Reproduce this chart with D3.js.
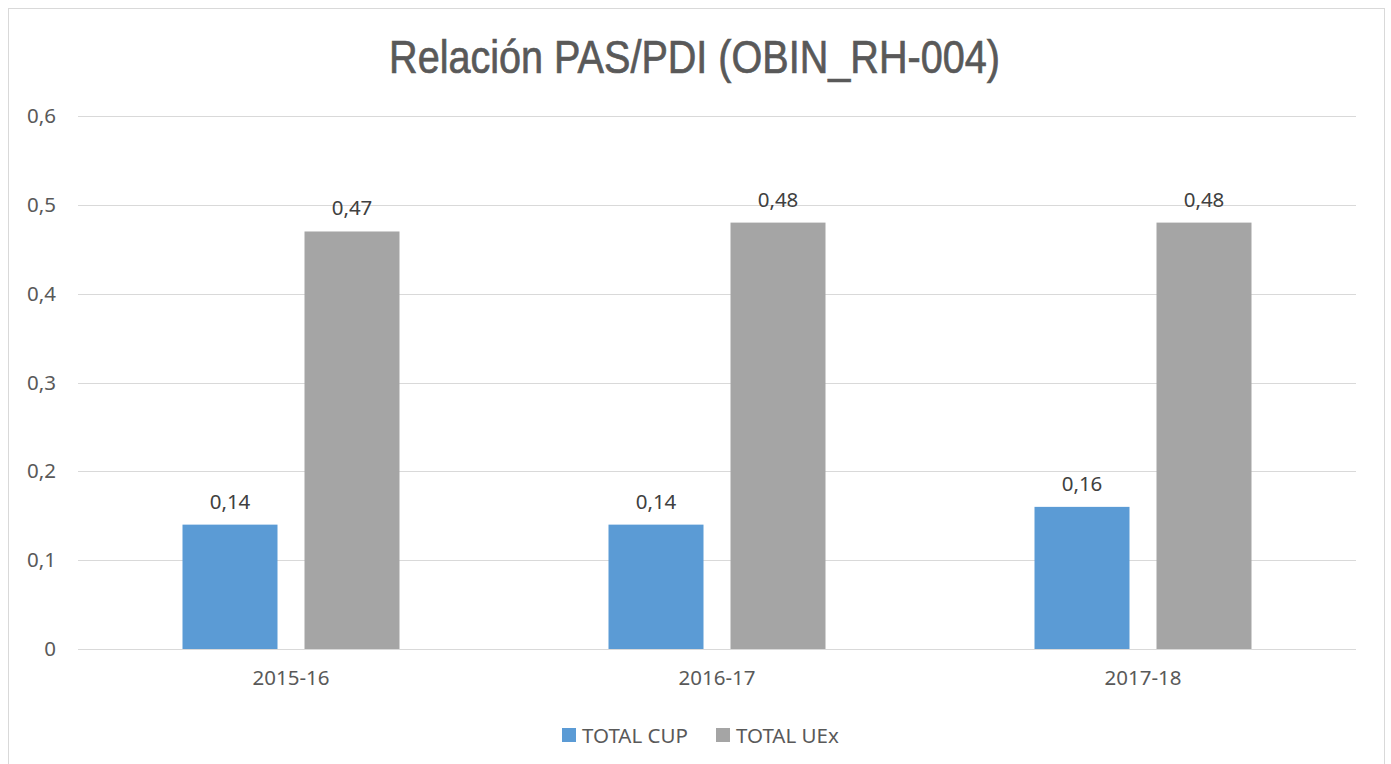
<!DOCTYPE html>
<html>
<head>
<meta charset="utf-8">
<script src="https://cdn.jsdelivr.net/npm/d3@7"></script>
<style>
  html, body { margin: 0; padding: 0; background: #fff; }
  svg { display: block; }
</style>
</head>
<body>
<svg id="chart" width="1391" height="764"></svg>
<script>
// Academic years on the x axis
const categories = ["2015-16", "2016-17", "2017-18"];
// Ratio PAS/PDI per series
const seriesNames = ["TOTAL CUP", "TOTAL UEx"];
const totalCup = [0.14, 0.14, 0.16];
const totalUex = [0.47, 0.48, 0.48];
const seriesColors = ["#5b9bd5", "#a5a5a5"];
const yTicks = [0, 0.1, 0.2, 0.3, 0.4, 0.5, 0.6];

const fmt = v => (v === 0 ? "0" : String(v).replace(".", ","));
const svg = d3.select("#chart");
const W = 1391, H = 764;
const margin = { left: 78, right: 35, top: 116, bottom: 115 };
const labelFont = "'Noto Sans', 'Open Sans', sans-serif";

// Outer frame
svg.append("rect")
  .attr("x", 8.5).attr("y", 8.5)
  .attr("width", 1376).attr("height", 770)
  .attr("fill", "#fff").attr("stroke", "#d9d9d9").attr("stroke-width", 1);

// Title, condensed horizontally to a narrow face
const titleText = svg.append("text")
  .attr("text-anchor", "middle")
  .attr("font-family", "'Liberation Sans Narrow', 'Arial Narrow', 'Liberation Sans', sans-serif")
  .attr("font-size", 46)
  .attr("fill", "#595959")
  .attr("stroke", "#595959")
  .attr("stroke-width", 0.7)
  .text("Relación PAS/PDI (OBIN_RH-004)");
const titleWidth = 611;
const natural = titleText.node().getComputedTextLength();
const sx = Math.min(1, titleWidth / natural);
titleText.attr("transform", `translate(${(389 + 1000) / 2},73) scale(${sx},1)`);

const x0 = d3.scaleBand()
  .domain(categories)
  .range([margin.left, W - margin.right])
  .paddingInner(0).paddingOuter(0);

const y = d3.scaleLinear()
  .domain([0, 0.6])
  .range([H - margin.bottom, margin.top]);

// Gridlines
svg.append("g")
  .selectAll("line")
  .data(yTicks)
  .join("line")
  .attr("x1", margin.left).attr("x2", W - margin.right)
  .attr("y1", d => Math.round(y(d)) + 0.5)
  .attr("y2", d => Math.round(y(d)) + 0.5)
  .attr("stroke", "#d9d9d9").attr("stroke-width", 1);

// Y axis labels
const yAxis = svg.append("g")
  .attr("transform", `translate(${margin.left - 22},0)`)
  .call(d3.axisLeft(y).tickValues(yTicks).tickFormat(fmt).tickSize(0).tickPadding(0));
yAxis.select(".domain").remove();
yAxis.selectAll("text")
  .attr("font-family", labelFont)
  .attr("font-size", 20.5)
  .attr("fill", "#595959");

// X axis labels
const xAxis = svg.append("g")
  .attr("transform", `translate(0,${y(0)})`)
  .call(d3.axisBottom(x0).tickSize(0).tickPadding(21));
xAxis.select(".domain").remove();
xAxis.selectAll("text")
  .attr("font-family", labelFont)
  .attr("font-size", 20.5)
  .attr("fill", "#595959");

// Bars
const barW = 95, gap = 27;
const x1 = d3.scaleBand()
  .domain(seriesNames)
  .range([0, barW * 2 + gap])
  .paddingInner(gap / (barW + gap));

const rows = categories.map((c, i) => ({
  cat: c,
  vals: [
    { s: seriesNames[0], v: totalCup[i], color: seriesColors[0] },
    { s: seriesNames[1], v: totalUex[i], color: seriesColors[1] }
  ]
}));

const groups = svg.append("g")
  .selectAll("g")
  .data(rows)
  .join("g")
  .attr("transform", d => `translate(${x0(d.cat) + x0.bandwidth() / 2 - (barW * 2 + gap) / 2},0)`);

groups.selectAll("rect")
  .data(d => d.vals)
  .join("rect")
  .attr("x", d => x1(d.s))
  .attr("width", x1.bandwidth())
  .attr("y", d => y(d.v))
  .attr("height", d => y(0) - y(d.v))
  .attr("fill", d => d.color);

groups.selectAll("text")
  .data(d => d.vals)
  .join("text")
  .attr("x", d => x1(d.s) + x1.bandwidth() / 2)
  .attr("y", d => y(d.v) - 16)
  .attr("text-anchor", "middle")
  .attr("font-family", labelFont)
  .attr("font-size", 20.5)
  .attr("fill", "#404040")
  .text(d => fmt(d.v));

// Legend
const legend = svg.append("g").attr("transform", "translate(562,735)");
const legendItems = [
  { name: seriesNames[0], color: seriesColors[0], dx: 0 },
  { name: seriesNames[1], color: seriesColors[1], dx: 154 }
];
const li = legend.selectAll("g").data(legendItems).join("g")
  .attr("transform", d => `translate(${d.dx},0)`);
li.append("rect")
  .attr("x", 0).attr("y", -7).attr("width", 14).attr("height", 14)
  .attr("fill", d => d.color);
li.append("text")
  .attr("x", 20).attr("y", 8)
  .attr("font-family", labelFont)
  .attr("font-size", 20.5)
  .attr("fill", "#595959")
  .text(d => d.name);
</script>
</body>
</html>
